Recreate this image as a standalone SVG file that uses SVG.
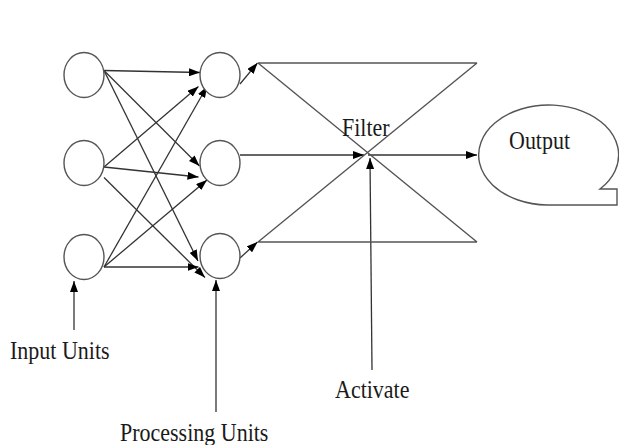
<svg xmlns="http://www.w3.org/2000/svg" width="619" height="445" viewBox="0 0 619 445">
  <style>
    .unit { fill: #ffffff; stroke: #555555; stroke-width: 1.4; }
    .edge { fill: none; stroke: #333333; stroke-width: 1.3; }
    .arrow { marker-end: url(#head); }
    .frame { fill: none; stroke: #555555; stroke-width: 1.4; }
    .label { font-family: "Liberation Serif", "Times New Roman", serif; font-size: 22px; fill: #1a1a1a; }
  </style>
  <defs>
    <marker id="head" markerUnits="userSpaceOnUse" markerWidth="11" markerHeight="8" refX="11" refY="4" orient="auto">
      <path d="M0,0 L11,4 L0,8 Z" fill="#000000"/>
    </marker>
  </defs>
  <rect width="619" height="445" fill="#ffffff"/>

  <!-- links between units -->
  <g id="connectors">
    <!-- input 1 -->
    <line class="edge arrow" x1="104" y1="70.5" x2="200" y2="72.5"/>
    <line class="edge arrow" x1="104" y1="70.5" x2="199.5" y2="166"/>
    <line class="edge arrow" x1="104" y1="70.5" x2="198" y2="261"/>
    <!-- input 2 -->
    <line class="edge arrow" x1="104" y1="167" x2="198.5" y2="86.5"/>
    <line class="edge arrow" x1="104" y1="167" x2="198.5" y2="177"/>
    <line class="edge arrow" x1="104" y1="177.5" x2="205" y2="277.5"/>
    <!-- input 3 -->
    <line class="edge arrow" x1="104" y1="267" x2="207" y2="86.5"/>
    <line class="edge arrow" x1="104" y1="267" x2="207" y2="180"/>
    <line class="edge arrow" x1="104" y1="267" x2="198.5" y2="267"/>
    <!-- processing units to filter -->
    <line class="edge arrow" x1="240" y1="84" x2="257.5" y2="63"/>
    <line class="edge arrow" x1="240" y1="155" x2="364" y2="155"/>
    <line class="edge arrow" x1="240" y1="258" x2="257.5" y2="242"/>
    <!-- filter to output -->
    <line class="edge arrow" x1="368" y1="155" x2="477" y2="155"/>
    <!-- label pointers -->
    <line class="edge arrow" x1="74" y1="330" x2="74" y2="281"/>
    <line class="edge arrow" x1="216" y1="412" x2="216" y2="280"/>
    <line class="edge arrow" x1="372" y1="370" x2="370" y2="158"/>
  </g>

  <g id="input-1"><ellipse class="unit" cx="84" cy="75" rx="20" ry="22.5"/></g>
  <g id="input-2"><ellipse class="unit" cx="84" cy="163" rx="20" ry="22.5"/></g>
  <g id="input-3"><ellipse class="unit" cx="84" cy="257" rx="20" ry="22.5"/></g>

  <g id="processing-1"><ellipse class="unit" cx="220" cy="75" rx="20" ry="22.5"/></g>
  <g id="processing-2"><ellipse class="unit" cx="220" cy="163" rx="20" ry="22.5"/></g>
  <g id="processing-3"><ellipse class="unit" cx="220" cy="256" rx="20" ry="22.5"/></g>

  <!-- bow-tie filter -->
  <g id="filter">
    <path class="frame" d="M258,63 L477,63 M258,63 L477,242 M258,242 L477,63 M258,242 L477,242"/>
    <text class="label" transform="translate(342,136) scale(1,1.12)">Filter</text>
  </g>

  <!-- output callout -->
  <g id="output">
    <path class="unit" d="M600,189 L617,189 L617,205 L547,205 A70,50 0 1 1 600,189 Z"/>
    <text class="label" transform="translate(509,149) scale(1,1.12)">Output</text>
  </g>

  <g id="label-input-units">
    <text class="label" transform="translate(10,359) scale(1,1.12)">Input Units</text>
  </g>
  <g id="label-processing-units">
    <text class="label" transform="translate(120,441) scale(1,1.12)">Processing Units</text>
  </g>
  <g id="label-activate">
    <text class="label" transform="translate(335,398) scale(1,1.12)">Activate</text>
  </g>
</svg>
